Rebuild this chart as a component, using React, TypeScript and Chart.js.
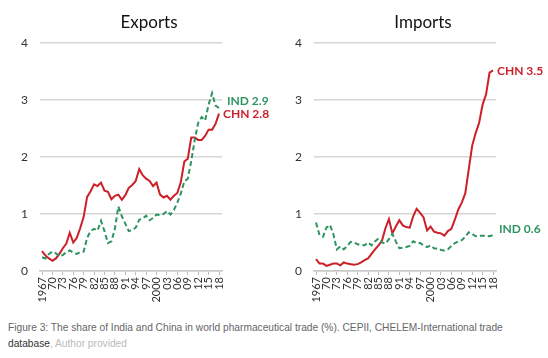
import React, { useEffect, useRef } from "react";
import { Chart, registerables } from "chart.js";

Chart.register(...registerables);

const years: number[] = [];
for (let y = 1967; y <= 2018; y++) years.push(y);

const tickYears = [1967, 1970, 1973, 1976, 1979, 1982, 1985, 1988, 1991, 1994, 1997, 2000, 2003, 2006, 2009, 2012, 2015, 2018];

const exportsCHN = [
  0.35, 0.27, 0.22, 0.18, 0.22, 0.30, 0.40, 0.48, 0.67, 0.50,
  0.58, 0.75, 0.95, 1.30, 1.40, 1.52, 1.49, 1.55, 1.41, 1.39,
  1.26, 1.32, 1.34, 1.25, 1.33, 1.46, 1.51, 1.58, 1.79, 1.68,
  1.62, 1.58, 1.49, 1.55, 1.34, 1.29, 1.32, 1.25, 1.32, 1.37,
  1.56, 1.92, 1.97, 2.34, 2.34, 2.30, 2.30, 2.37, 2.48, 2.48,
  2.58, 2.76,
];
const exportsIND = [
  0.24, 0.22, 0.30, 0.34, 0.31, 0.26, 0.28, 0.33, 0.36, 0.32,
  0.30, 0.33, 0.34, 0.58, 0.70, 0.74, 0.71, 0.88, 0.70, 0.49,
  0.52, 0.74, 1.13, 0.96, 0.83, 0.70, 0.72, 0.76, 0.90, 0.92,
  0.97, 0.89, 0.93, 0.99, 0.98, 1.00, 1.05, 0.99, 1.07, 1.20,
  1.36, 1.57, 1.62, 1.93, 2.30, 2.60, 2.70, 2.64, 2.92, 3.12,
  2.90, 2.86,
];
const importsCHN = [
  0.21, 0.13, 0.13, 0.09, 0.11, 0.13, 0.13, 0.10, 0.15, 0.13,
  0.12, 0.11, 0.12, 0.15, 0.19, 0.22, 0.30, 0.38, 0.45, 0.53,
  0.75, 0.91, 0.66, 0.78, 0.89, 0.80, 0.77, 0.76, 0.96, 1.09,
  1.02, 0.94, 0.71, 0.78, 0.69, 0.67, 0.66, 0.62, 0.70, 0.74,
  0.90, 1.08, 1.20, 1.36, 1.78, 2.20, 2.42, 2.60, 2.92, 3.10,
  3.48, 3.52,
];
const importsIND = [
  0.85, 0.63, 0.60, 0.76, 0.81, 0.65, 0.38, 0.43, 0.38, 0.44,
  0.51, 0.50, 0.47, 0.45, 0.45, 0.50, 0.45, 0.52, 0.57, 0.50,
  0.48, 0.56, 0.65, 0.52, 0.40, 0.41, 0.42, 0.44, 0.52, 0.49,
  0.49, 0.45, 0.42, 0.45, 0.40, 0.39, 0.37, 0.36, 0.38, 0.44,
  0.49, 0.52, 0.54, 0.60, 0.68, 0.65, 0.61, 0.62, 0.62, 0.62,
  0.61, 0.63,
];

const RED = "#cc1f28";
const GREEN = "#2f9560";
const FONT = "Lato, 'Open Sans', sans-serif";

const endLabels = {
  id: "endLabels",
  afterDatasetsDraw(chart: any) {
    const ctx = chart.ctx;
    chart.data.datasets.forEach((ds: any, i: number) => {
      const meta = chart.getDatasetMeta(i);
      const pt = meta.data[meta.data.length - 1];
      if (!pt) return;
      const v = ds.data[ds.data.length - 1].y;
      ctx.save();
      ctx.font = `bold 12px ${FONT}`;
      ctx.fillStyle = ds.borderColor;
      ctx.textBaseline = "middle";
      ctx.textAlign = "left";
      ctx.fillText(`${ds.label} ${v.toFixed(1)}`, pt.x + (ds.labelDx || 5), pt.y + (ds.labelDy || 0));
      ctx.restore();
    });
  },
};

function Panel({ title, chn, ind, chnDy, indDy, chnDx, indDx }: any) {
  const ref = useRef<HTMLCanvasElement>(null);
  useEffect(() => {
    const toPts = (arr: number[]) => arr.map((v, i) => ({ x: years[i], y: v }));
    const chart = new Chart(ref.current as HTMLCanvasElement, {
      type: "line",
      data: {
        datasets: [
          {
            label: "IND",
            data: toPts(ind),
            borderColor: GREEN,
            borderWidth: 2,
            borderDash: [5, 3],
            pointRadius: 0,
            tension: 0,
            labelDy: indDy,
            labelDx: indDx,
          } as any,
          {
            label: "CHN",
            data: toPts(chn),
            borderColor: RED,
            borderWidth: 2,
            pointRadius: 0,
            tension: 0,
            labelDy: chnDy,
            labelDx: chnDx,
          } as any,
        ],
      },
      options: {
        animation: false,
        responsive: false,
        layout: { padding: { left: 0, right: 52, top: 43, bottom: 0 } },
        plugins: {
          legend: { display: false },
          tooltip: { enabled: false },
          title: { display: false },
        },
        scales: {
          x: {
            type: "linear",
            min: 1966.42,
            max: 2018.86,
            afterBuildTicks: (scale: any) => {
              scale.ticks = tickYears.map((v) => ({ value: v }));
            },
            afterFit: (scale: any) => {
              scale.height = 39;
            },
            ticks: {
              autoSkip: false,
              minRotation: 90,
              maxRotation: 90,
              padding: 2,
              color: "#333",
              font: { family: FONT, size: 11 },
              callback: (v: any) => {
                const n = Number(v);
                if (n === 1967 || n === 2000) return String(n);
                return String(n % 100).padStart(2, "0");
              },
            },
            grid: { drawOnChartArea: false, drawTicks: true, tickLength: 4, color: "#bdbdbd" },
            border: { display: true, color: "#c8c8c8", width: 1.5 },
          },
          y: {
            min: 0,
            max: 4,
            afterFit: (scale: any) => {
              scale.width = 40;
            },
            ticks: {
              stepSize: 1,
              padding: 12,
              color: "#333",
              font: { family: FONT, size: 12 },
            },
            grid: { color: "#d6d6d6", lineWidth: 1.5, drawTicks: false },
            border: { display: false },
          },
        },
      },
      plugins: [endLabels],
    } as any);
    return () => chart.destroy();
  }, []);
  return (
    <div style={{ position: "relative", width: 274, height: 310 }}>
      <canvas ref={ref} width={274} height={310} style={{ width: 274, height: 310, display: "block" }} />
      <div
        style={{
          position: "absolute",
          left: 149 - 60,
          width: 120,
          top: 11,
          textAlign: "center",
          fontFamily: FONT,
          fontSize: 17,
          lineHeight: "22px",
          color: "#111",
        }}
      >
        {title}
      </div>
    </div>
  );
}

export default function App() {
  return (
    <div style={{ position: "absolute", left: 0, top: 0, width: 548, height: 358, background: "#fff", overflow: "hidden" }}>
      <div style={{ display: "flex" }}>
        <Panel title="Exports" chn={exportsCHN} ind={exportsIND} chnDy={0} indDy={-7} chnDx={4} indDx={8} />
        <Panel title="Imports" chn={importsCHN} ind={importsIND} chnDy={1} indDy={-6} chnDx={4} indDx={6} />
      </div>
      <div
        style={{
          position: "absolute",
          left: 8,
          top: 320,
          fontFamily: "'Liberation Sans', Arial, sans-serif",
          fontSize: 10.2,
          lineHeight: "15.5px",
          color: "#666",
          whiteSpace: "nowrap",
        }}
      >
        Figure 3: The share of India and China in world pharmaceutical trade (%). CEPII, CHELEM-International trade
        <br />
        <span style={{ color: "#333" }}>database</span>
        <span style={{ color: "#bbb" }}>, Author provided</span>
      </div>
    </div>
  );
}
